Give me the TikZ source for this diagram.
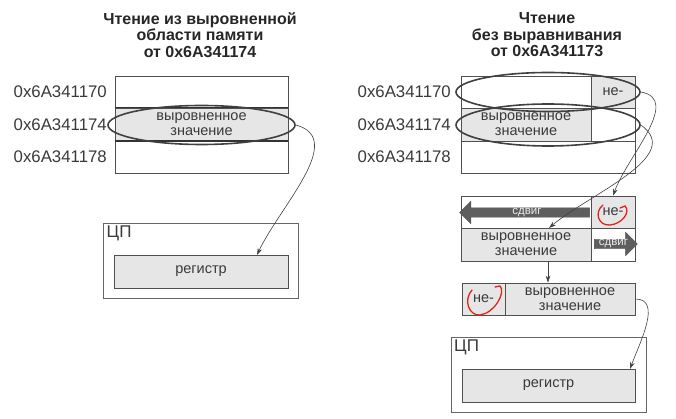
\documentclass[tikz,border=0pt]{standalone}
\usepackage{fontspec}
\setmainfont{Liberation Sans}
\usetikzlibrary{arrows.meta,shapes.geometric,shapes.arrows}
\definecolor{cellgray}{HTML}{E6E6E6}
\definecolor{linegray}{HTML}{505050}
\definecolor{textgray}{HTML}{3A3A3A}
\definecolor{shiftgray}{HTML}{5E5E5E}
\definecolor{penred}{HTML}{E0251B}

\begin{document}
\begin{tikzpicture}[x=1pt,y=-1pt,
	cell/.style={draw=linegray,line width=0.6pt,inner sep=0pt,minimum height=32,
		font=\fontsize{14.5}{15}\selectfont,text=textgray,align=center},
	filled/.style={cell,fill=cellgray},
	addr/.style={anchor=east,inner sep=0pt,font=\fontsize{16.8}{17}\selectfont,text=textgray},
	title/.style={align=center,font=\bfseries\fontsize{16}{16.5}\selectfont,text=black!85},
	read/.style={ellipse,draw=black!75,line width=1.6pt,inner sep=0pt},
	link/.style={draw=black!75,line width=0.6pt,-{Stealth[length=7pt,width=4.5pt]}},
	shiftarrow/.style={single arrow,draw=black!70,fill=shiftgray,text=white!92!black,
		inner xsep=0pt,inner ysep=0.3pt,font=\fontsize{11.5}{11.5}\selectfont,single arrow head extend=6.5pt},
	scribble/.style={draw=penred,line width=1.3pt,line cap=round},
	cpu/.style={draw=black!60,line width=0.6pt,minimum width=195,minimum height=75}]
	
	\useasboundingbox (0,0) rectangle (676,419);
	
	% left: aligned read
	\node[title] (t1) at (200,35) {Чтение из выровненной\\области памяти\\от 0x6A341174};
	\node[cell,minimum width=173] (l1) at (201.5,92) {};
	\node[filled,minimum width=173,minimum height=33] (l2) at (201.5,124.5) {выровненное\\значение};
	\node[cell,minimum width=173] (l3) at (201.5,157) {};
	\draw[black!80,line width=1.6pt] (l2.north west) -- (l2.north east) (l2.south west) -- (l2.south east);
	\node[addr] (a1) at (107,92) {0x6A341170};
	\node[addr] (a2) at (107,125) {0x6A341174};
	\node[addr] (a3) at (107,157) {0x6A341178};
	\node[read,minimum width=187,minimum height=39] (e0) at (201.5,125) {};
	
	\node[cpu] (c1) at (201,260.5) {};
	\node[anchor=north west,font=\fontsize{17}{17}\selectfont,text=textgray] at (c1.north west) {ЦП};
	\node[filled,minimum width=174,minimum height=33] (g1) at (201,271.5) {регистр};
	\coordinate (g1in) at (257,255);
	\draw[link] (e0.east) to[out=-15,in=65] (g1in);
	
	% right: unaligned read
	\node[title] (t2) at (547,35) {Чтение\\без выравнивания\\от 0x6A341173};
	\node[cell,minimum width=130] (r1a) at (526,92) {};
	\node[filled,minimum width=44] (r1b) at (613,92) {не-};
	\node[filled,minimum width=130,minimum height=33] (r2a) at (526,124.5) {выровненное\\значение};
	\node[cell,minimum width=44,minimum height=33] (r2b) at (613,124.5) {};
	\node[cell,minimum width=174] (r3) at (548,157) {};
	\node[addr] (b1) at (451,92) {0x6A341170};
	\node[addr] (b2) at (451,125) {0x6A341174};
	\node[addr] (b3) at (451,157) {0x6A341178};
	\node[read,minimum width=184,minimum height=39] (e1) at (548,92) {};
	\node[read,minimum width=184,minimum height=42] (e2) at (548,125) {};
	
	% shift step
	\node[cell,minimum width=130] (s1a) at (526,212) {};
	\node[filled,minimum width=44] (s1b) at (613,212) {не-};
	\node[filled,minimum width=130,minimum height=33] (s2a) at (526,244.5) {выровненное\\значение};
	\node[cell,minimum width=44,minimum height=33] (s2b) at (613,244.5) {};
	\node[shiftarrow,shape border rotate=180,minimum height=130] (h1) at (527,212.5) {сдвиг};
	\node[shiftarrow,minimum height=43,single arrow head extend=7pt] (h2) at (613.5,244) {сдвиг};
	\coordinate (s2in) at (549,228);
	\draw[link] (e1.east) to[out=-10,in=70] (s1b.north);
	\draw[link] (e2.east) to[out=-35,in=40] (s2in);
	
	% result
	\node[filled,minimum width=43] (q1) at (483.5,299) {не-};
	\node[filled,minimum width=130] (q2) at (570,299) {выровненное\\значение};
	\coordinate (s2out) at (548,261);
	\draw[link] (s2out) -- (s2out |- q2.north);
	
	\node[cpu] (c2) at (548.5,374.5) {};
	\node[anchor=north west,font=\fontsize{17}{17}\selectfont,text=textgray] at (c2.north west) {ЦП};
	\node[filled,minimum width=173,minimum height=33] (g2) at (548.5,385.5) {регистр};
	\coordinate (g2in) at (630,369);
	\draw[link] (q2.east) to[out=0,in=70] (g2in);
	
	% red marks
	\draw[scribble] (603,205) .. controls (594,212) and (598,226) .. (610,225) .. controls (622,224) and (631,212) .. (625,206) -- (620,208);
	\draw[scribble] (472,290) .. controls (463,300) and (469,316) .. (480,315) .. controls (495,313) and (506,292) .. (500,286) -- (495,287);
\end{tikzpicture}
\end{document}
